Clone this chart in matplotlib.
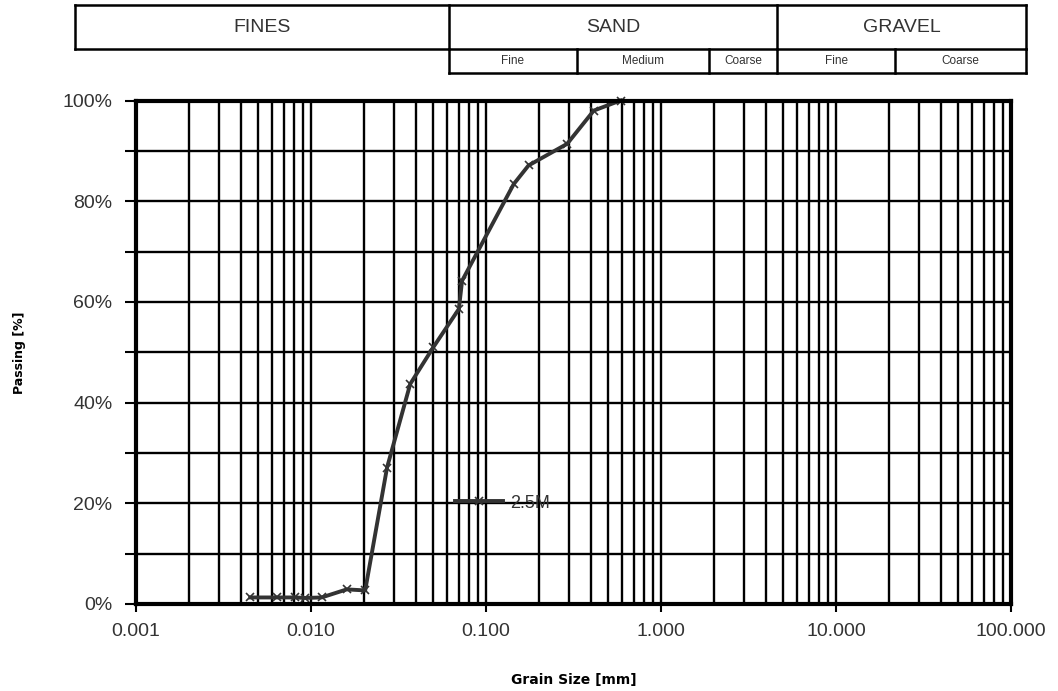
import matplotlib.pyplot as plt
from matplotlib.lines import Line2D
from matplotlib.ticker import FixedLocator, FixedFormatter, LogLocator, NullFormatter

# grain size distribution
size_mm = [0.0045, 0.0064, 0.0081, 0.0093, 0.0115, 0.016, 0.0204, 0.0272,
           0.0369, 0.050, 0.070, 0.073, 0.144, 0.175, 0.291, 0.413, 0.587]
passing = [1.3, 1.3, 1.3, 1.2, 1.3, 2.9, 2.7, 27.1,
           43.7, 51.0, 58.6, 64.2, 83.4, 87.1, 91.4, 98.0, 100.0]
series_name = '2.5M'

x_ticks = [0.001, 0.01, 0.1, 1, 10, 100]
x_tick_labels = ['0.001', '0.010', '0.100', '1.000', '10.000', '100.000']
y_ticks = [0, 20, 40, 60, 80, 100]
y_tick_labels = ['0%', '20%', '40%', '60%', '80%', '100%']

# header classification table
main_classes = ['FINES', 'SAND', 'GRAVEL']
sub_classes = ['Fine', 'Medium', 'Coarse', 'Fine', 'Coarse']

plt.rcParams['font.family'] = ['Liberation Sans', 'DejaVu Sans']

W, H = 1058, 691
fig = plt.figure(figsize=(W / 100, H / 100), dpi=100)
ax = fig.add_axes([136 / W, 1 - 604 / H, (1011 - 136) / W, (604 - 100.5) / H])

ax.plot(size_mm, passing, color='#333333', lw=2.8, marker='x', ms=6,
        mew=1.2, label=series_name, zorder=5, clip_on=False)

ax.set_xscale('log')
ax.set_xlim(0.001, 100)
ax.set_ylim(0, 100)

ax.xaxis.set_major_locator(FixedLocator(x_ticks))
ax.xaxis.set_major_formatter(FixedFormatter(x_tick_labels))
ax.xaxis.set_minor_locator(LogLocator(base=10, subs=range(2, 10), numticks=20))
ax.xaxis.set_minor_formatter(NullFormatter())
ax.yaxis.set_major_locator(FixedLocator(y_ticks))
ax.yaxis.set_major_formatter(FixedFormatter(y_tick_labels))
ax.yaxis.set_minor_locator(FixedLocator([10, 30, 50, 70, 90]))

ax.grid(which='both', color='black', lw=1.7)
ax.tick_params(axis='x', which='major', length=6, width=1.5, pad=8,
               labelsize=14, colors='black', labelcolor='#333333')
ax.tick_params(axis='x', which='minor', length=0)
ax.tick_params(axis='y', which='both', length=8, width=1.5, pad=9,
               labelsize=14, labelcolor='#333333')
for s in ax.spines.values():
    s.set_linewidth(3)
    s.set_zorder(6)

ax.set_xlabel('Grain Size [mm]', fontsize=10, fontweight='bold',
              family=['DejaVu Sans'])
ax.set_ylabel('Passing [%]', fontsize=9, fontweight='bold',
              family=['DejaVu Sans'])
ax.xaxis.set_label_coords(0.5, -0.137)
ax.yaxis.set_label_coords(-0.126, 0.5)

leg = ax.legend(loc='center left', bbox_to_anchor=(0.364, 0.2), frameon=False,
                fontsize=13, handlelength=2.7, handletextpad=0.4,
                borderpad=0, borderaxespad=0)
for t in leg.get_texts():
    t.set_color('#333333')

# header table drawn in figure pixels
def fx(px):
    return px / W

def fy(py):
    return 1 - py / H

def hline(x0, x1, y):
    fig.add_artist(Line2D([fx(x0), fx(x1)], [fy(y), fy(y)], color='black', lw=1.8))

def vline(x, y0, y1):
    fig.add_artist(Line2D([fx(x), fx(x)], [fy(y0), fy(y1)], color='black', lw=1.8))

top, mid, bot = 5, 49, 73
main_edges = [75, 449, 777, 1026]
sub_edges = [449, 577, 709, 777, 895, 1026]

hline(75, 1026, top)
hline(75, 1026, mid)
hline(449, 1026, bot)
for x in main_edges:
    vline(x, top, mid)
for x in sub_edges:
    vline(x, mid, bot)

for i, name in enumerate(main_classes):
    xc = (main_edges[i] + main_edges[i + 1]) / 2
    fig.text(fx(xc), fy((top + mid) / 2), name, ha='center', va='center',
             fontsize=14, color='#333333')
for i, name in enumerate(sub_classes):
    xc = (sub_edges[i] + sub_edges[i + 1]) / 2
    fig.text(fx(xc), fy((mid + bot) / 2), name, ha='center', va='center',
             fontsize=8.5, color='#333333')

fig.savefig('out.png', dpi=100)
